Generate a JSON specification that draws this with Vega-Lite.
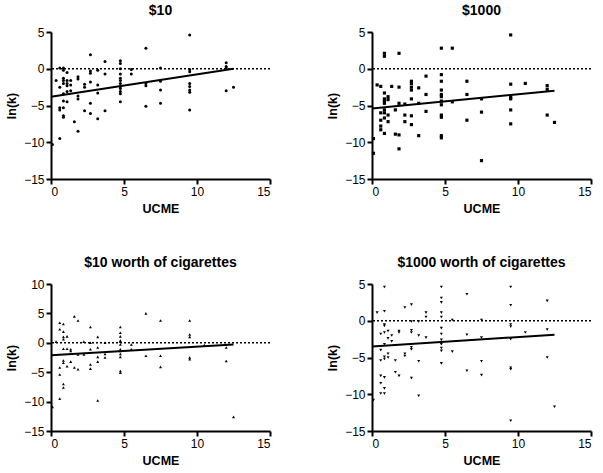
{
"$schema":"https://vega.github.io/schema/vega-lite/v6.json",
"padding":{"left":5,"top":4,"right":5,"bottom":5},
"background":"white",
"datasets":{
"pts":[
{"p":1,"x":0.1,"y":-10.3},{"p":1,"x":0.35,"y":-1.6},
{"p":1,"x":0.6,"y":0.1},{"p":1,"x":0.6,"y":-2.5},{"p":1,"x":0.6,"y":-5.3},{"p":1,"x":0.6,"y":-5.6},{"p":1,"x":0.6,"y":-9.5},
{"p":1,"x":0.85,"y":0.1},{"p":1,"x":0.85,"y":-0.2},{"p":1,"x":0.85,"y":-1.3},{"p":1,"x":0.85,"y":-1.6},{"p":1,"x":0.85,"y":-2.0},{"p":1,"x":0.85,"y":-3.4},{"p":1,"x":0.85,"y":-4.4},{"p":1,"x":0.85,"y":-5.3},{"p":1,"x":0.85,"y":-6.4},{"p":1,"x":0.85,"y":-6.6},
{"p":1,"x":1.1,"y":-0.5},{"p":1,"x":1.1,"y":-1.6},{"p":1,"x":1.1,"y":-2.0},{"p":1,"x":1.1,"y":-2.3},{"p":1,"x":1.1,"y":-3.1},{"p":1,"x":1.1,"y":-4.5},
{"p":1,"x":1.35,"y":-1.6},{"p":1,"x":1.35,"y":-2.2},{"p":1,"x":1.35,"y":-3.0},
{"p":1,"x":1.6,"y":-7.2},
{"p":1,"x":1.85,"y":-1.1},{"p":1,"x":1.85,"y":-1.4},{"p":1,"x":1.85,"y":-3.7},{"p":1,"x":1.85,"y":-4.1},{"p":1,"x":1.85,"y":-8.5},
{"p":1,"x":2.3,"y":-2.1},{"p":1,"x":2.3,"y":-2.5},{"p":1,"x":2.3,"y":-5.7},
{"p":1,"x":2.7,"y":1.9},{"p":1,"x":2.7,"y":-0.3},{"p":1,"x":2.7,"y":-0.6},{"p":1,"x":2.7,"y":-1.8},{"p":1,"x":2.7,"y":-4.7},{"p":1,"x":2.7,"y":-6.1},
{"p":1,"x":3.2,"y":-0.2},{"p":1,"x":3.2,"y":-2.2},{"p":1,"x":3.2,"y":-3.3},{"p":1,"x":3.2,"y":-6.8},
{"p":1,"x":3.7,"y":1.0},{"p":1,"x":3.7,"y":-0.7},{"p":1,"x":3.7,"y":-5.7},
{"p":1,"x":4.75,"y":1.1},{"p":1,"x":4.75,"y":0.7},{"p":1,"x":4.75,"y":0},{"p":1,"x":4.75,"y":-0.7},{"p":1,"x":4.75,"y":-1.3},{"p":1,"x":4.75,"y":-1.6},{"p":1,"x":4.75,"y":-2.0},{"p":1,"x":4.75,"y":-2.4},{"p":1,"x":4.75,"y":-2.7},{"p":1,"x":4.75,"y":-3.1},{"p":1,"x":4.75,"y":-3.4},{"p":1,"x":4.75,"y":-4.5},
{"p":1,"x":5.5,"y":-0.1},{"p":1,"x":5.5,"y":-0.7},
{"p":1,"x":6.5,"y":2.8},{"p":1,"x":6.5,"y":-2.0},{"p":1,"x":6.5,"y":-2.3},{"p":1,"x":6.5,"y":-5.1},
{"p":1,"x":7.5,"y":0.1},{"p":1,"x":7.5,"y":-1.7},{"p":1,"x":7.5,"y":-2.9},{"p":1,"x":7.5,"y":-4.7},
{"p":1,"x":9.5,"y":4.6},{"p":1,"x":9.5,"y":-0.1},{"p":1,"x":9.5,"y":-0.4},{"p":1,"x":9.5,"y":-2.0},{"p":1,"x":9.5,"y":-2.4},{"p":1,"x":9.5,"y":-2.9},{"p":1,"x":9.5,"y":-3.2},{"p":1,"x":9.5,"y":-5.6},
{"p":1,"x":12,"y":0.8},{"p":1,"x":12,"y":0.3},{"p":1,"x":12,"y":0.1},{"p":1,"x":12,"y":-3.0},
{"p":1,"x":12.5,"y":-2.5},

{"p":2,"x":0.1,"y":-9.5},{"p":2,"x":0.1,"y":-11.5},{"p":2,"x":0.35,"y":-2.2},
{"p":2,"x":0.6,"y":-2.4},{"p":2,"x":0.6,"y":-6.0},{"p":2,"x":0.6,"y":-7.0},{"p":2,"x":0.6,"y":-7.8},{"p":2,"x":0.6,"y":-8.3},
{"p":2,"x":0.85,"y":2.1},{"p":2,"x":0.85,"y":1.7},{"p":2,"x":0.85,"y":-3.3},{"p":2,"x":0.85,"y":-4.1},{"p":2,"x":0.85,"y":-4.4},{"p":2,"x":0.85,"y":-4.7},{"p":2,"x":0.85,"y":-5.6},{"p":2,"x":0.85,"y":-6.0},{"p":2,"x":0.85,"y":-6.7},{"p":2,"x":0.85,"y":-8.8},
{"p":2,"x":1.1,"y":-3.8},{"p":2,"x":1.1,"y":-4.2},{"p":2,"x":1.1,"y":-6.3},{"p":2,"x":1.1,"y":-7.2},
{"p":2,"x":1.35,"y":-2.4},
{"p":2,"x":1.6,"y":-5.6},{"p":2,"x":1.6,"y":-8.9},
{"p":2,"x":1.85,"y":2.1},{"p":2,"x":1.85,"y":-2.5},{"p":2,"x":1.85,"y":-4.7},{"p":2,"x":1.85,"y":-9.0},{"p":2,"x":1.85,"y":-10.9},
{"p":2,"x":2.25,"y":-4.8},{"p":2,"x":2.25,"y":-6.3},{"p":2,"x":2.25,"y":-7.2},
{"p":2,"x":2.7,"y":-1.7},{"p":2,"x":2.7,"y":-2.0},{"p":2,"x":2.7,"y":-2.5},{"p":2,"x":2.7,"y":-2.9},{"p":2,"x":2.7,"y":-4.1},{"p":2,"x":2.7,"y":-6.4},{"p":2,"x":2.7,"y":-7.6},
{"p":2,"x":3.2,"y":-2.6},{"p":2,"x":3.2,"y":-4.7},{"p":2,"x":3.2,"y":-9.1},
{"p":2,"x":3.7,"y":-1.0},{"p":2,"x":3.7,"y":-3.5},{"p":2,"x":3.7,"y":-5.8},
{"p":2,"x":4.75,"y":2.8},{"p":2,"x":4.75,"y":-0.8},{"p":2,"x":4.75,"y":-1.7},{"p":2,"x":4.75,"y":-2.9},{"p":2,"x":4.75,"y":-3.5},{"p":2,"x":4.75,"y":-3.8},{"p":2,"x":4.75,"y":-4.4},{"p":2,"x":4.75,"y":-4.9},{"p":2,"x":4.75,"y":-6.3},{"p":2,"x":4.75,"y":-6.6},{"p":2,"x":4.75,"y":-9.1},{"p":2,"x":4.75,"y":-9.4},
{"p":2,"x":5.5,"y":2.8},{"p":2,"x":5.5,"y":-4.5},
{"p":2,"x":6.5,"y":-1.7},{"p":2,"x":6.5,"y":-3.5},{"p":2,"x":6.5,"y":-7.0},
{"p":2,"x":7.5,"y":-4.1},{"p":2,"x":7.5,"y":-5.9},{"p":2,"x":7.5,"y":-12.5},
{"p":2,"x":9.5,"y":4.6},{"p":2,"x":9.5,"y":-2.1},{"p":2,"x":9.5,"y":-3.9},{"p":2,"x":9.5,"y":-4.1},{"p":2,"x":9.5,"y":-5.6},{"p":2,"x":9.5,"y":-7.5},
{"p":2,"x":10.5,"y":-2.0},
{"p":2,"x":12,"y":-2.3},{"p":2,"x":12,"y":-2.8},{"p":2,"x":12,"y":-6.3},
{"p":2,"x":12.5,"y":-7.3},

{"p":3,"x":0.1,"y":-10.9},{"p":3,"x":0.35,"y":0.2},
{"p":3,"x":0.6,"y":3.4},{"p":3,"x":0.6,"y":2.3},{"p":3,"x":0.6,"y":-4.2},{"p":3,"x":0.6,"y":-5.4},{"p":3,"x":0.6,"y":-9.5},
{"p":3,"x":0.85,"y":3.2},{"p":3,"x":0.85,"y":1.9},{"p":3,"x":0.85,"y":1.0},{"p":3,"x":0.85,"y":0.6},{"p":3,"x":0.85,"y":-1.0},{"p":3,"x":0.85,"y":-3.0},{"p":3,"x":0.85,"y":-3.4},{"p":3,"x":0.85,"y":-7.0},{"p":3,"x":0.85,"y":-7.6},
{"p":3,"x":1.1,"y":1.1},{"p":3,"x":1.1,"y":-1.0},{"p":3,"x":1.1,"y":-4.0},
{"p":3,"x":1.35,"y":-1.1},{"p":3,"x":1.35,"y":-1.4},{"p":3,"x":1.35,"y":-3.2},
{"p":3,"x":1.6,"y":4.5},{"p":3,"x":1.6,"y":-4.2},
{"p":3,"x":1.85,"y":3.8},{"p":3,"x":1.85,"y":-2.0},{"p":3,"x":1.85,"y":-4.5},
{"p":3,"x":2.25,"y":0.2},{"p":3,"x":2.25,"y":-2.0},
{"p":3,"x":2.7,"y":2.7},{"p":3,"x":2.7,"y":0},{"p":3,"x":2.7,"y":-1.1},{"p":3,"x":2.7,"y":-3.7},{"p":3,"x":2.7,"y":-4.4},
{"p":3,"x":3.2,"y":1.0},{"p":3,"x":3.2,"y":-0.8},{"p":3,"x":3.2,"y":-2.4},{"p":3,"x":3.2,"y":-3.2},{"p":3,"x":3.2,"y":-9.8},
{"p":3,"x":3.7,"y":0},{"p":3,"x":3.7,"y":-1.9},{"p":3,"x":3.7,"y":-2.5},
{"p":3,"x":4.75,"y":2.7},{"p":3,"x":4.75,"y":1.7},{"p":3,"x":4.75,"y":1.1},{"p":3,"x":4.75,"y":0.4},{"p":3,"x":4.75,"y":0.2},{"p":3,"x":4.75,"y":-0.3},{"p":3,"x":4.75,"y":-1.1},{"p":3,"x":4.75,"y":-1.4},{"p":3,"x":4.75,"y":-1.9},{"p":3,"x":4.75,"y":-2.4},{"p":3,"x":4.75,"y":-4.8},{"p":3,"x":4.75,"y":-5.1},
{"p":3,"x":5.5,"y":-0.3},{"p":3,"x":5.5,"y":-1.1},
{"p":3,"x":6.5,"y":5.0},{"p":3,"x":6.5,"y":-2.2},
{"p":3,"x":7.5,"y":3.8},{"p":3,"x":7.5,"y":-2.2},{"p":3,"x":7.5,"y":-4.1},
{"p":3,"x":9.5,"y":3.8},{"p":3,"x":9.5,"y":1.4},{"p":3,"x":9.5,"y":1.0},{"p":3,"x":9.5,"y":-2.5},{"p":3,"x":9.5,"y":-2.8},
{"p":3,"x":10.5,"y":-0.4},
{"p":3,"x":12,"y":-0.8},{"p":3,"x":12,"y":-3.1},
{"p":3,"x":12.5,"y":-12.6},

{"p":4,"x":0.1,"y":-10.8},{"p":4,"x":0.35,"y":1.1},
{"p":4,"x":0.6,"y":-1.8},{"p":4,"x":0.6,"y":-4.0},{"p":4,"x":0.6,"y":-5.4},{"p":4,"x":0.6,"y":-7.5},{"p":4,"x":0.6,"y":-8.5},{"p":4,"x":0.6,"y":-9.9},
{"p":4,"x":0.85,"y":4.6},{"p":4,"x":0.85,"y":1.3},{"p":4,"x":0.85,"y":-0.5},{"p":4,"x":0.85,"y":-0.7},{"p":4,"x":0.85,"y":-1.6},{"p":4,"x":0.85,"y":-3.2},{"p":4,"x":0.85,"y":-4.9},{"p":4,"x":0.85,"y":-5.2},{"p":4,"x":0.85,"y":-7.7},{"p":4,"x":0.85,"y":-9.2},{"p":4,"x":0.85,"y":-9.9},
{"p":4,"x":1.1,"y":-1.4},{"p":4,"x":1.1,"y":-2.4},{"p":4,"x":1.1,"y":-4.5},{"p":4,"x":1.1,"y":-5.0},
{"p":4,"x":1.35,"y":-2.0},{"p":4,"x":1.35,"y":-2.8},
{"p":4,"x":1.6,"y":-5.4},{"p":4,"x":1.6,"y":-7.0},
{"p":4,"x":1.85,"y":-1.4},{"p":4,"x":1.85,"y":-1.6},{"p":4,"x":1.85,"y":-7.5},
{"p":4,"x":2.25,"y":1.8},{"p":4,"x":2.25,"y":-4.5},{"p":4,"x":2.25,"y":-4.8},
{"p":4,"x":2.7,"y":2.2},{"p":4,"x":2.7,"y":-0.1},{"p":4,"x":2.7,"y":-1.3},{"p":4,"x":2.7,"y":-1.6},{"p":4,"x":2.7,"y":-3.6},{"p":4,"x":2.7,"y":-3.9},{"p":4,"x":2.7,"y":-7.8},
{"p":4,"x":3.2,"y":-0.1},{"p":4,"x":3.2,"y":-2.0},{"p":4,"x":3.2,"y":-5.5},{"p":4,"x":3.2,"y":-10.2},
{"p":4,"x":3.7,"y":1.1},{"p":4,"x":3.7,"y":0.5},{"p":4,"x":3.7,"y":-2.3},
{"p":4,"x":4.75,"y":4.6},{"p":4,"x":4.75,"y":3.1},{"p":4,"x":4.75,"y":2.5},{"p":4,"x":4.75,"y":1.1},{"p":4,"x":4.75,"y":0.5},{"p":4,"x":4.75,"y":-1.0},{"p":4,"x":4.75,"y":-1.8},{"p":4,"x":4.75,"y":-2.6},{"p":4,"x":4.75,"y":-3.2},{"p":4,"x":4.75,"y":-3.7},{"p":4,"x":4.75,"y":-4.1},{"p":4,"x":4.75,"y":-5.8},
{"p":4,"x":5.5,"y":0.1},{"p":4,"x":5.5,"y":-4.2},
{"p":4,"x":6.5,"y":3.6},{"p":4,"x":6.5,"y":-1.9},{"p":4,"x":6.5,"y":-6.8},
{"p":4,"x":7.5,"y":0.1},{"p":4,"x":7.5,"y":-2.3},{"p":4,"x":7.5,"y":-5.5},{"p":4,"x":7.5,"y":-7.4},
{"p":4,"x":9.5,"y":4.6},{"p":4,"x":9.5,"y":2.1},{"p":4,"x":9.5,"y":-0.5},{"p":4,"x":9.5,"y":-0.8},{"p":4,"x":9.5,"y":-2.5},{"p":4,"x":9.5,"y":-6.4},{"p":4,"x":9.5,"y":-6.6},{"p":4,"x":9.5,"y":-13.6},
{"p":4,"x":10.5,"y":-1.6},
{"p":4,"x":12,"y":2.7},{"p":4,"x":12,"y":-1.2},{"p":4,"x":12,"y":-5.0},
{"p":4,"x":12.5,"y":-11.7}
],
"fit":[
{"p":1,"x":0,"y":-3.8},{"p":1,"x":12.5,"y":0},
{"p":2,"x":0,"y":-5.4},{"p":2,"x":12.5,"y":-3.0},
{"p":3,"x":0,"y":-2.1},{"p":3,"x":12.5,"y":-0.3},
{"p":4,"x":0,"y":-3.5},{"p":4,"x":12.5,"y":-1.9}
],
"zero":[{"y":0}]
},
"spacing":41,
"vconcat":[
{"spacing":55,"hconcat":[
{"width":219,"height":147,"title":"$10","layer":[
{"data":{"name":"zero"},"mark":{"type":"rule","color":"black","strokeWidth":1.4,"strokeDash":[2,2]},"encoding":{"y":{"field":"y","type":"quantitative","scale":{"domain":[-15,5]},"axis":{"title":"ln(k)","values":[-15,-10,-5,0,5]}}}},
{"data":{"name":"fit"},"transform":[{"filter":"datum.p==1"}],"mark":{"type":"line","color":"black","strokeWidth":2},"encoding":{"x":{"field":"x","type":"quantitative","scale":{"domain":[0,15]},"axis":{"title":"UCME","values":[0,5,10,15]}},"y":{"field":"y","type":"quantitative","scale":{"domain":[-15,5]},"axis":{"title":"ln(k)","values":[-15,-10,-5,0,5]}}}},
{"data":{"name":"pts"},"transform":[{"filter":"datum.p==1"}],"mark":{"type":"point","shape":"circle","filled":true,"size":9,"color":"black","opacity":1},"encoding":{"x":{"field":"x","type":"quantitative","scale":{"domain":[0,15]},"axis":{"title":"UCME","values":[0,5,10,15]}},"y":{"field":"y","type":"quantitative","scale":{"domain":[-15,5]},"axis":{"title":"ln(k)","values":[-15,-10,-5,0,5]}}}}
]},
{"width":219,"height":147,"title":"$1000","layer":[
{"data":{"name":"zero"},"mark":{"type":"rule","color":"black","strokeWidth":1.4,"strokeDash":[2,2]},"encoding":{"y":{"field":"y","type":"quantitative","scale":{"domain":[-15,5]},"axis":{"title":"ln(k)","values":[-15,-10,-5,0,5]}}}},
{"data":{"name":"fit"},"transform":[{"filter":"datum.p==2"}],"mark":{"type":"line","color":"black","strokeWidth":2},"encoding":{"x":{"field":"x","type":"quantitative","scale":{"domain":[0,15]},"axis":{"title":"UCME","values":[0,5,10,15]}},"y":{"field":"y","type":"quantitative","scale":{"domain":[-15,5]},"axis":{"title":"ln(k)","values":[-15,-10,-5,0,5]}}}},
{"data":{"name":"pts"},"transform":[{"filter":"datum.p==2"}],"mark":{"type":"point","shape":"square","filled":true,"size":10,"color":"black","opacity":1},"encoding":{"x":{"field":"x","type":"quantitative","scale":{"domain":[0,15]},"axis":{"title":"UCME","values":[0,5,10,15]}},"y":{"field":"y","type":"quantitative","scale":{"domain":[-15,5]},"axis":{"title":"ln(k)","values":[-15,-10,-5,0,5]}}}}
]}
]},
{"spacing":55,"hconcat":[
{"width":219,"height":147,"title":"$10 worth of cigarettes","layer":[
{"data":{"name":"zero"},"mark":{"type":"rule","color":"black","strokeWidth":1.4,"strokeDash":[2,2]},"encoding":{"y":{"field":"y","type":"quantitative","scale":{"domain":[-15,10]},"axis":{"title":"ln(k)","values":[-15,-10,-5,0,5,10]}}}},
{"data":{"name":"fit"},"transform":[{"filter":"datum.p==3"}],"mark":{"type":"line","color":"black","strokeWidth":2},"encoding":{"x":{"field":"x","type":"quantitative","scale":{"domain":[0,15]},"axis":{"title":"UCME","values":[0,5,10,15]}},"y":{"field":"y","type":"quantitative","scale":{"domain":[-15,10]},"axis":{"title":"ln(k)","values":[-15,-10,-5,0,5,10]}}}},
{"data":{"name":"pts"},"transform":[{"filter":"datum.p==3"}],"mark":{"type":"point","shape":"triangle-up","filled":true,"size":9,"color":"black","opacity":1},"encoding":{"x":{"field":"x","type":"quantitative","scale":{"domain":[0,15]},"axis":{"title":"UCME","values":[0,5,10,15]}},"y":{"field":"y","type":"quantitative","scale":{"domain":[-15,10]},"axis":{"title":"ln(k)","values":[-15,-10,-5,0,5,10]}}}}
]},
{"width":219,"height":147,"title":"$1000 worth of cigarettes","layer":[
{"data":{"name":"zero"},"mark":{"type":"rule","color":"black","strokeWidth":1.4,"strokeDash":[2,2]},"encoding":{"y":{"field":"y","type":"quantitative","scale":{"domain":[-15,5]},"axis":{"title":"ln(k)","values":[-15,-10,-5,0,5]}}}},
{"data":{"name":"fit"},"transform":[{"filter":"datum.p==4"}],"mark":{"type":"line","color":"black","strokeWidth":2},"encoding":{"x":{"field":"x","type":"quantitative","scale":{"domain":[0,15]},"axis":{"title":"UCME","values":[0,5,10,15]}},"y":{"field":"y","type":"quantitative","scale":{"domain":[-15,5]},"axis":{"title":"ln(k)","values":[-15,-10,-5,0,5]}}}},
{"data":{"name":"pts"},"transform":[{"filter":"datum.p==4"}],"mark":{"type":"point","shape":"triangle-down","filled":true,"size":9,"color":"black","opacity":1},"encoding":{"x":{"field":"x","type":"quantitative","scale":{"domain":[0,15]},"axis":{"title":"UCME","values":[0,5,10,15]}},"y":{"field":"y","type":"quantitative","scale":{"domain":[-15,5]},"axis":{"title":"ln(k)","values":[-15,-10,-5,0,5]}}}}
]}
]}
],
"config":{
"view":{"stroke":null},
"font":"Liberation Sans",
"axis":{"grid":false,"labelOverlap":false,"domainColor":"black","domainWidth":2,"tickColor":"black","tickWidth":2,"tickSize":5,"labelColor":"black","labelFont":"Liberation Sans","labelFontSize":12,"labelPadding":2,"titleFont":"Liberation Sans","titleFontSize":12.5,"titleFontWeight":"bold","titleColor":"black"},
"axisX":{"titlePadding":5},
"axisY":{"titlePadding":5},
"title":{"font":"Liberation Sans","fontSize":14,"fontWeight":"bold","color":"black","anchor":"middle","offset":8}
}
}
